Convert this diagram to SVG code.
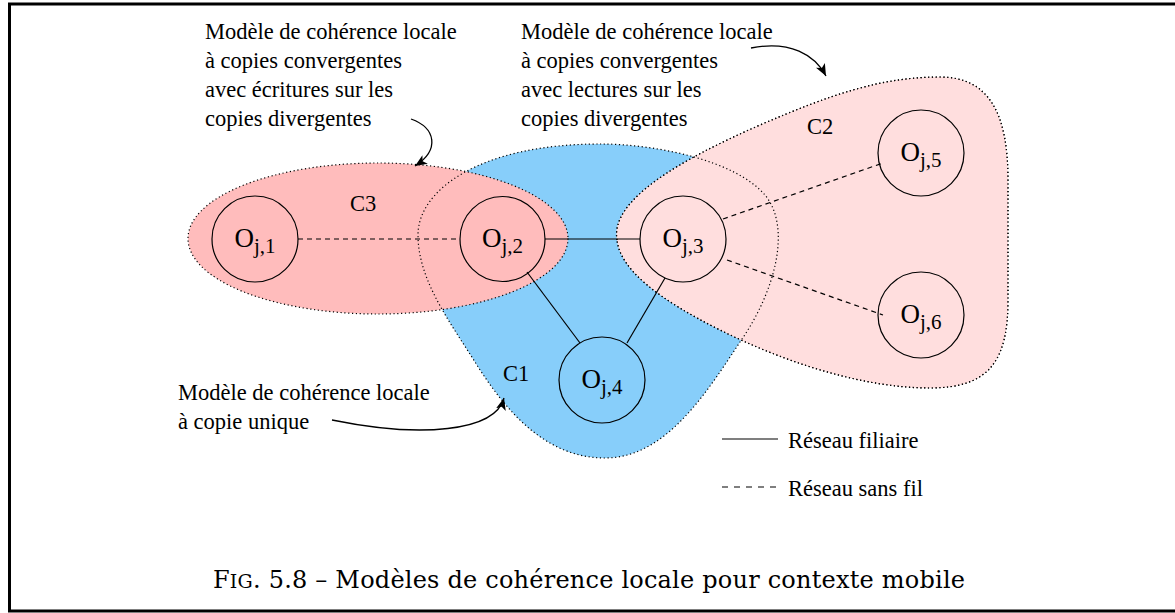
<svg xmlns="http://www.w3.org/2000/svg" width="1175" height="613" viewBox="0 0 1175 613">
<style>
.t{font-family:"Liberation Serif","Times New Roman",serif;font-size:22.5px;fill:#000}
.nl{font-family:"Liberation Serif","Times New Roman",serif;font-size:27px;fill:#000}
.sub{font-size:21px}
.node{fill:none;stroke:#000;stroke-width:1.2}
.border{stroke:#000;stroke-width:1.2;stroke-dasharray:1.2 2.6}
.wired{stroke:#000;stroke-width:1.2;fill:none}
.wireless{stroke:#000;stroke-width:1.2;fill:none;stroke-dasharray:5 4}
.callout{stroke:#000;stroke-width:1.3;fill:none;marker-end:url(#ah)}
.cap{font-family:"DejaVu Serif","Liberation Serif",serif;font-size:24px;fill:#000}
</style>
<defs>
<marker id="ah" markerWidth="14" markerHeight="10" refX="12" refY="5" orient="auto" markerUnits="userSpaceOnUse">
<path d="M0,0 L12,5 L0,10 L3,5 z" fill="#000"/>
</marker>
<path id="c1path" d="M600,144 C655,144 735,160 765,195 C792,228 775,292 740,342 C705,395 665,458 605,458 C545,458 505,410 475,362 C450,322 418,280 418,235 C418,190 480,144 600,144 Z"/>
<path id="c2path" d="M617,240 C610,200 680,160 760,125 C830,95 880,77 940,77 C990,77 1008,115 1008,180 L1008,300 C1008,360 990,388 930,388 C860,388 780,360 720,330 C660,300 620,270 617,240 Z"/>
</defs>
<rect x="0" y="0" width="1175" height="613" fill="#fff"/>
<path d="M1180,4 H9.5 V611 H1180" fill="none" stroke="#000" stroke-width="3"/>

<g id="regions">
<use id="C1" href="#c1path" fill="#87cefa"/>
<use id="C2" href="#c2path" fill="#ffdede" class="border"/>
<ellipse id="C3" cx="378" cy="238.5" rx="190" ry="75.5" fill="#ffbcbc" class="border"/>
<use href="#c1path" fill="none" class="border"/>
<use href="#c2path" fill="none" class="border"/>
<text class="t" x="350" y="211">C3</text>
<text class="t" x="503" y="381">C1</text>
<text class="t" x="807" y="134">C2</text>
</g>

<g id="connectors">
<line class="wireless" x1="298" y1="239" x2="460" y2="239"/>
<line class="wired" x1="545" y1="239" x2="640" y2="239"/>
<line class="wired" x1="527" y1="272" x2="580" y2="343"/>
<line class="wired" x1="665" y1="278" x2="627" y2="343"/>
<line class="wireless" x1="723" y1="219" x2="883" y2="163"/>
<line class="wireless" x1="727" y1="260" x2="883" y2="315"/>
<path class="callout" d="M411,119 C436,128 440,150 415,166"/>
<path class="callout" d="M751,48 C790,40 815,55 826,76"/>
<path class="callout" d="M332,420 C420,438 495,432 504,398"/>
</g>

<g id="Oj1"><circle class="node" cx="255" cy="239" r="43"/><text class="nl" x="255" y="247" text-anchor="middle">O<tspan class="sub" dy="6">j,1</tspan></text></g>
<g id="Oj2"><circle class="node" cx="502.5" cy="239" r="42.5"/><text class="nl" x="502.5" y="247" text-anchor="middle">O<tspan class="sub" dy="6">j,2</tspan></text></g>
<g id="Oj3"><circle class="node" cx="683" cy="239" r="43"/><text class="nl" x="683" y="247" text-anchor="middle">O<tspan class="sub" dy="6">j,3</tspan></text></g>
<g id="Oj4"><circle class="node" cx="602" cy="380" r="43"/><text class="nl" x="602" y="388" text-anchor="middle">O<tspan class="sub" dy="6">j,4</tspan></text></g>
<g id="Oj5"><circle class="node" cx="921" cy="153" r="43"/><text class="nl" x="921" y="161" text-anchor="middle">O<tspan class="sub" dy="6">j,5</tspan></text></g>
<g id="Oj6"><circle class="node" cx="921" cy="315" r="43"/><text class="nl" x="921" y="323" text-anchor="middle">O<tspan class="sub" dy="6">j,6</tspan></text></g>

<g id="notes">
<text class="t" x="205" y="39">Modèle de cohérence locale</text>
<text class="t" x="205" y="68">à copies convergentes</text>
<text class="t" x="205" y="97">avec écritures sur les</text>
<text class="t" x="205" y="126">copies divergentes</text>
<text class="t" x="521" y="39">Modèle de cohérence locale</text>
<text class="t" x="521" y="68">à copies convergentes</text>
<text class="t" x="521" y="97">avec lectures sur les</text>
<text class="t" x="521" y="126">copies divergentes</text>
<text class="t" x="178" y="400">Modèle de cohérence locale</text>
<text class="t" x="178" y="429">à copie unique</text>
</g>

<g id="legend">
<line class="wired" x1="722" y1="439" x2="778" y2="439"/>
<text class="t" x="788" y="448">Réseau filiaire</text>
<line class="wireless" x1="722" y1="487" x2="778" y2="487" style="stroke-dasharray:6 6"/>
<text class="t" x="788" y="496">Réseau sans fil</text>
</g>

<text class="cap" x="213" y="588" textLength="752" lengthAdjust="spacing">F<tspan font-size="19">IG</tspan>. 5.8 – Modèles de cohérence locale pour contexte mobile</text>
</svg>
